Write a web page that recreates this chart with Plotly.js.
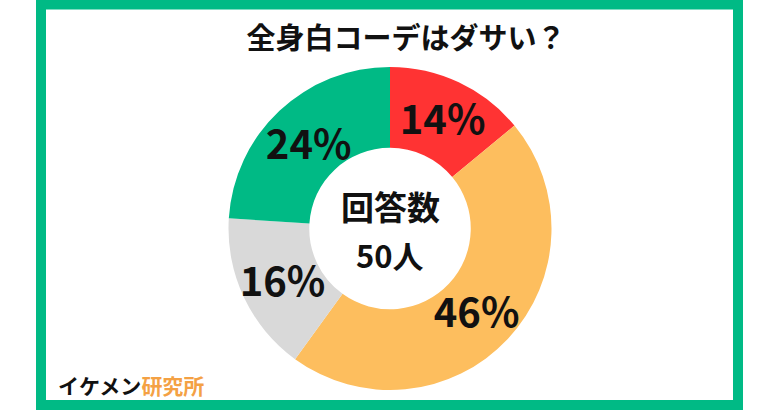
<!DOCTYPE html>
<html>
<head>
<meta charset="utf-8">
<script src="https://cdn.plot.ly/plotly-3.0.1.min.js"></script>
<style>
html,body{margin:0;padding:0;background:#fff;}
#chart{width:780px;height:410px;}
</style>
</head>
<body>
<div id="chart"></div>
<script>
const categories = ['とてもダサい', 'ややダサい', 'どちらでもない', 'ダサくない'];
const values = [14, 46, 16, 24];
const sliceColors = ['#FF3333', '#FDBE5E', '#D9D9D9', '#00BA85'];
const titleText = '全身白コーデはダサい？';
const centerLine1 = '回答数';
const centerLine2 = '50人';
const brandMain = 'イケメン';
const brandAccent = '研究所';

const FONT = '"Noto Sans CJK JP", "Noto Sans", sans-serif';
const W = 780, H = 410;
const px = v => v / W;
const py = v => 1 - v / H;
const CX = 390, CY = 228.5;

// visible donut
const donut = {
  type: 'pie',
  labels: categories,
  values: values,
  hole: 0.5,
  sort: false,
  direction: 'clockwise',
  rotation: 0,
  marker: {colors: sliceColors, line: {width: 0}},
  textinfo: 'none',
  hoverinfo: 'skip',
  showlegend: false,
  domain: {x: [px(CX - 162), px(CX + 162)], y: [py(CY + 161.5), py(CY - 161.5)]}
};

// transparent overlay carrying the percentage labels (same data, wider ring so labels sit at slice mid-angles)
const LR = 176;
const labelsPie = {
  type: 'pie',
  labels: categories,
  values: values,
  hole: 0.35,
  sort: false,
  direction: 'clockwise',
  rotation: 0,
  marker: {colors: values.map(() => 'rgba(0,0,0,0)'), line: {width: 0}},
  textinfo: 'percent',
  texttemplate: '%{percent:.0%}',
  textposition: 'inside',
  insidetextorientation: 'horizontal',
  textfont: {family: FONT, size: 40, color: '#111', weight: 700},
  hoverinfo: 'skip',
  showlegend: false,
  domain: {x: [px(CX - LR), px(CX + LR)], y: [py(CY + LR), py(CY - LR)]}
};

const layout = {
  width: W, height: H,
  margin: {l: 0, r: 0, t: 0, b: 0},
  paper_bgcolor: '#fff',
  plot_bgcolor: '#fff',
  showlegend: false,
  title: {
    text: titleText,
    x: px(406), xanchor: 'center', xref: 'paper',
    y: py(39), yanchor: 'middle', yref: 'container',
    font: {family: FONT, size: 29, color: '#111', weight: 700}
  },
  shapes: [{
    type: 'rect', xref: 'paper', yref: 'paper',
    x0: px(41), x1: px(738), y0: py(405), y1: py(4.5),
    line: {color: '#00BA85', width: 10},
    fillcolor: 'rgba(0,0,0,0)'
  }],
  annotations: [
    {text: centerLine1, x: px(390), y: py(206), xref: 'paper', yref: 'paper',
     xanchor: 'center', yanchor: 'middle', showarrow: false,
     font: {family: FONT, size: 33, color: '#111', weight: 700}},
    {text: centerLine2, x: px(390), y: py(254), xref: 'paper', yref: 'paper',
     xanchor: 'center', yanchor: 'middle', showarrow: false,
     font: {family: FONT, size: 31, color: '#111', weight: 700}},
    {text: brandMain + '<span style="color:#F4A144">' + brandAccent + '</span>',
     x: px(56), y: py(385), xref: 'paper', yref: 'paper',
     xanchor: 'left', yanchor: 'middle', showarrow: false,
     font: {family: FONT, size: 21, color: '#111', weight: 700}}
  ]
};

Plotly.newPlot('chart', [donut, labelsPie], layout, {displayModeBar: false, staticPlot: true});
</script>
</body>
</html>
